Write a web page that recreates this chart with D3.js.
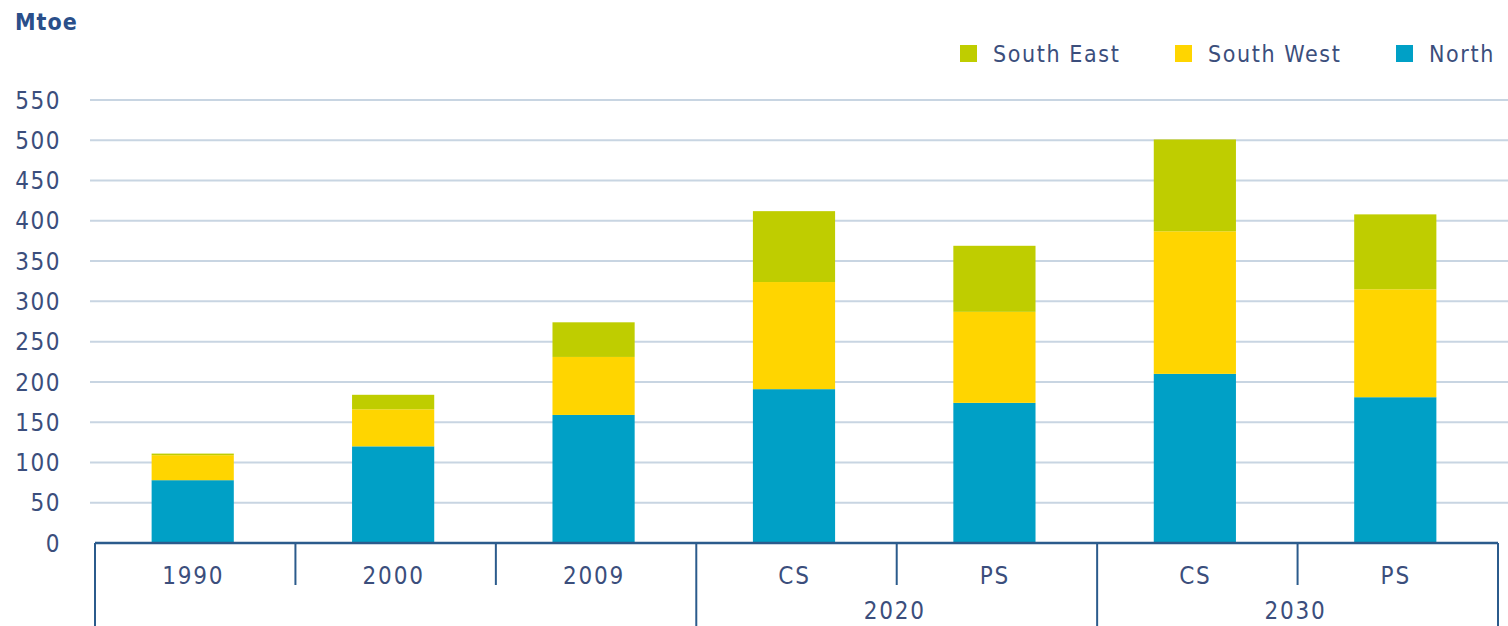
<!DOCTYPE html>
<html>
<head>
<meta charset="utf-8">
<script src="https://cdn.jsdelivr.net/npm/d3@7"></script>
<style>
  body { margin: 0; background: #fff; }
  text { font-family: "DejaVu Sans Condensed", "Roboto", sans-serif; fill: #3b4e7c; }
</style>
</head>
<body>
<script>
//chart data
var categories = ["1990", "2000", "2009", "CS", "PS", "CS", "PS"];
var groups = ["", "", "", "2020", "2020", "2030", "2030"];
var north = [78, 120, 159, 191, 174, 210, 181];
var southWest = [31, 46, 72, 133, 113, 177, 134];
var southEast = [2, 18, 43, 88, 82, 114, 93];
var seriesNames = ["North", "South West", "South East"];
var yTicks = [0, 50, 100, 150, 200, 250, 300, 350, 400, 450, 500, 550];

var colors = {"North": "#00a0c6", "South West": "#ffd500", "South East": "#bfcd00"};

var width = 1508, height = 626;
var svg = d3.select("body").append("svg")
    .attr("width", width)
    .attr("height", height);

//scales
var x = d3.scaleBand()
    .domain(d3.range(categories.length))
    .range([95, 1498])
    .padding(0);

var y = d3.scaleLinear()
    .domain([0, 550])
    .range([543, 100]);

//gridlines
svg.selectAll(".grid")
    .data(yTicks.filter(function(d){ return d > 0; }))
    .enter()
    .append("line")
    .attr("x1", 90)
    .attr("x2", width)
    .attr("y1", function(d){ return y(d); })
    .attr("y2", function(d){ return y(d); })
    .attr("stroke", "#c8d5e2")
    .attr("stroke-width", 2);

//y tick labels
svg.selectAll(".ylab")
    .data(yTicks)
    .enter()
    .append("text")
    .attr("x", 61)
    .attr("y", function(d){ return y(d); })
    .attr("dy", "0.36em")
    .attr("text-anchor", "end")
    .attr("font-size", 24)
    .attr("letter-spacing", 1.5)
    .text(function(d){ return d; });

//stacked bars
var table = categories.map(function(c, i){
    return {"North": north[i], "South West": southWest[i], "South East": southEast[i], idx: i};
});
var stack = d3.stack().keys(seriesNames)(table);

var barW = x.bandwidth() * 0.41;
svg.selectAll(".layer")
    .data(stack)
    .enter()
    .append("g")
    .attr("fill", function(d){ return colors[d.key]; })
    .selectAll("rect")
    .data(function(d){ return d; })
    .enter()
    .append("rect")
    .attr("x", function(d){ return x(d.data.idx) + (x.bandwidth() - barW) / 2 - 2.5; })
    .attr("width", barW)
    .attr("y", function(d){ return y(d[1]); })
    .attr("height", function(d){ return y(d[0]) - y(d[1]); });

//x axis baseline
var axisColor = "#2b5b8c";
svg.append("line")
    .attr("x1", x.range()[0])
    .attr("x2", x.range()[1])
    .attr("y1", y(0))
    .attr("y2", y(0))
    .attr("stroke", axisColor)
    .attr("stroke-width", 2.5);

//category separators: long where the group changes, short otherwise
var bounds = d3.range(categories.length + 1);
svg.selectAll(".sep")
    .data(bounds)
    .enter()
    .append("line")
    .attr("x1", function(i){ return i < categories.length ? x(i) : x.range()[1]; })
    .attr("x2", function(i){ return i < categories.length ? x(i) : x.range()[1]; })
    .attr("y1", y(0))
    .attr("y2", function(i){
        if (i === 0 || i === categories.length) return height;
        if (groups[i] !== groups[i - 1] && groups[i] !== "") return height;
        return 585;
    })
    .attr("stroke", axisColor)
    .attr("stroke-width", 2);

//category labels
svg.selectAll(".xlab")
    .data(categories)
    .enter()
    .append("text")
    .attr("x", function(d, i){ return x(i) + x.bandwidth() / 2 - 2; })
    .attr("y", 584)
    .attr("text-anchor", "middle")
    .attr("font-size", 24)
    .attr("letter-spacing", 1.8)
    .text(function(d){ return d; });

//group labels
var groupNames = ["2020", "2030"];
svg.selectAll(".glab")
    .data(groupNames)
    .enter()
    .append("text")
    .attr("x", function(g){
        var idx = [];
        groups.forEach(function(v, i){ if (v === g) idx.push(i); });
        return (x(idx[0]) + x(idx[idx.length - 1]) + x.bandwidth()) / 2 - 2;
    })
    .attr("y", 619)
    .attr("text-anchor", "middle")
    .attr("font-size", 24)
    .attr("letter-spacing", 1.8)
    .text(function(d){ return d; });

//unit label
svg.append("text")
    .attr("x", 15)
    .attr("y", 30)
    .attr("font-size", 23)
    .attr("font-weight", "bold")
    .attr("letter-spacing", 1)
    .style("fill", "#2a4f8a")
    .text("Mtoe");

//legend
var legendItems = [
    {name: "South East", x: 960},
    {name: "South West", x: 1175},
    {name: "North", x: 1396}
];
var legend = svg.selectAll(".legend")
    .data(legendItems)
    .enter()
    .append("g")
    .attr("transform", function(d){ return "translate(" + d.x + ",45)"; });
legend.append("rect")
    .attr("width", 17)
    .attr("height", 17)
    .attr("fill", function(d){ return colors[d.name]; });
legend.append("text")
    .attr("x", 33)
    .attr("y", 17)
    .attr("font-size", 23)
    .attr("letter-spacing", 1.6)
    .text(function(d){ return d.name; });
</script>
</body>
</html>
